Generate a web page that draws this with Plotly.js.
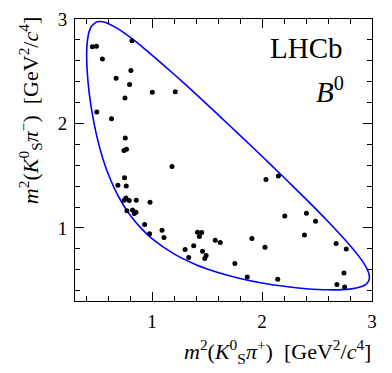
<!DOCTYPE html>
<html>
<head>
<meta charset="utf-8">
<script src="https://cdn.plot.ly/plotly-3.0.1.min.js"></script>
<style>
  html, body { margin: 0; padding: 0; background: #fff; }
  #plot { width: 392px; height: 373px; }
</style>
</head>
<body>
<div id="plot"></div>
<script>
// candidates: m2(KS pi+), m2(KS pi-)
var m2KsPip = [0.458, 0.495, 0.818, 0.549, 0.808, 0.674, 0.796, 1.003, 1.212, 0.754,
  0.498, 0.632, 0.757, 0.745, 0.768, 1.182, 0.750, 0.690, 0.766, 0.763,
  0.747, 0.793, 0.857, 0.982, 0.772, 0.823, 0.854, 0.839, 0.933, 0.978,
  1.091, 1.109, 1.413, 1.452, 1.431, 1.379, 1.301, 1.334, 1.459, 1.492,
  1.480, 1.575, 1.620, 1.753, 2.036, 2.149, 2.207, 2.404, 2.487, 2.386,
  1.908, 2.027, 2.674, 2.766, 1.866, 2.143, 2.745, 2.681, 2.751];
var m2KsPim = [2.735, 2.738, 2.792, 2.617, 2.508, 2.432, 2.374, 2.298, 2.303, 2.243,
  2.109, 2.045, 1.860, 1.742, 1.754, 1.588, 1.479, 1.409, 1.400, 1.287,
  1.265, 1.263, 1.265, 1.246, 1.163, 1.172, 1.150, 1.138, 1.033, 0.943,
  0.978, 0.908, 0.959, 0.956, 0.918, 0.828, 0.793, 0.716, 0.777, 0.736,
  0.707, 0.882, 0.860, 0.659, 1.464, 1.498, 1.115, 1.141, 1.064, 0.933,
  0.898, 0.815, 0.850, 0.799, 0.530, 0.508, 0.569, 0.458, 0.435];

// kinematic boundary, upper branch left->right then lower branch back
var edgeX = [0.406, 0.407, 0.41, 0.42, 0.43, 0.45, 0.5, 0.55, 0.6, 0.7, 0.8, 0.9, 1.0,
  1.2, 1.4, 1.6, 1.8, 2.0, 2.2, 2.4, 2.6, 2.8, 2.9, 2.95, 2.97, 2.974, 2.9766,
  2.974, 2.97, 2.95, 2.9, 2.8, 2.6, 2.4, 2.2, 2.0, 1.8, 1.6, 1.4, 1.2, 1.0,
  0.9, 0.8, 0.7, 0.6, 0.55, 0.5, 0.45, 0.43, 0.42, 0.41, 0.407, 0.406];
var edgeY = [2.651, 2.710, 2.764, 2.842, 2.884, 2.931, 2.973, 2.974, 2.958, 2.901, 2.826, 2.743, 2.655,
  2.471, 2.280, 2.084, 1.886, 1.686, 1.482, 1.275, 1.061, 0.832, 0.701, 0.617, 0.568, 0.551, 0.526,
  0.504, 0.492, 0.464, 0.436, 0.414, 0.407, 0.418, 0.441, 0.473, 0.516, 0.573, 0.648, 0.751, 0.898,
  0.998, 1.124, 1.291, 1.521, 1.674, 1.869, 2.137, 2.285, 2.381, 2.515, 2.585, 2.651];

var tickVals = [1, 2, 3];
var tickText = ['1', '2', '3'];

var serif = '"Liberation Serif", "Times New Roman", serif';

function axisStyle() {
  return {
    range: [0.3, 3.0],
    tickvals: tickVals,
    ticktext: tickText,
    ticks: 'inside',
    ticklen: 9,
    tickwidth: 1,
    tickcolor: '#000',
    showline: true,
    linecolor: '#000',
    linewidth: 1,
    mirror: 'allticks',
    showgrid: false,
    zeroline: false,
    tickfont: { family: serif, size: 19, color: '#000' },
    minor: { dtick: 0.2, tick0: 0, ticks: 'inside', ticklen: 5, tickcolor: '#000', showgrid: false }
  };
}

var xaxis = axisStyle();
xaxis.ticklabelstandoff = 3;
var yaxis = axisStyle();
yaxis.ticklabelstandoff = 3;

var data = [
  {
    x: edgeX, y: edgeY, type: 'scatter', mode: 'lines',
    line: { color: '#0000ff', width: 1.6, shape: 'spline', smoothing: 0.6 },
    hoverinfo: 'skip'
  },
  {
    x: m2KsPip, y: m2KsPim, type: 'scatter', mode: 'markers',
    marker: { color: '#000', size: 5 }
  }
];

var sp = '\u00a0';
var layout = {
  width: 392,
  height: 373,
  margin: { l: 75, r: 20, t: 19, b: 72 },
  paper_bgcolor: '#fff',
  plot_bgcolor: '#fff',
  showlegend: false,
  font: { family: serif, color: '#000' },
  xaxis: xaxis,
  yaxis: yaxis,
  annotations: [
    { // x title
      xref: 'paper', yref: 'paper', x: 1.005, y: -0.118, xanchor: 'right', yanchor: 'top',
      showarrow: false,
      text: '<i>m</i><sup>2</sup>(<i>K</i><sup>0</sup><sub>S</sub><i>π</i><sup>+</sup>)' + sp + ' [GeV<sup>2</sup>/<i>c</i><sup>4</sup>]',
      font: { family: serif, size: 22, color: '#000' }
    },
    { // y title
      xref: 'paper', yref: 'paper', x: -0.152, y: 1.015, xanchor: 'center', yanchor: 'top',
      textangle: -90, showarrow: false,
      text: '<i>m</i><sup>2</sup>(<i>K</i><sup>0</sup><sub>S</sub><i>π</i><sup>−</sup>)' + sp + ' [GeV<sup>2</sup>/<i>c</i><sup>4</sup>]',
      font: { family: serif, size: 22, color: '#000' }
    },
    {
      xref: 'paper', yref: 'paper', x: 0.91, y: 0.96, xanchor: 'right', yanchor: 'top',
      showarrow: false, text: 'LHCb',
      font: { family: serif, size: 29, color: '#000' }
    },
    {
      xref: 'paper', yref: 'paper', x: 0.913, y: 0.82, xanchor: 'right', yanchor: 'top',
      showarrow: false, text: '<i>B</i><sup>0</sup>',
      font: { family: serif, size: 29, color: '#000' }
    }
  ]
};

Plotly.newPlot('plot', data, layout, { staticPlot: true, displayModeBar: false });
</script>
</body>
</html>
